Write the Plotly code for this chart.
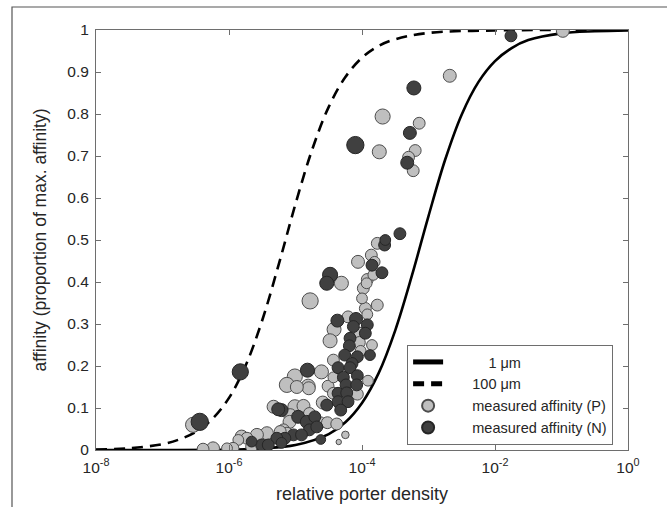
import numpy as np
import plotly.graph_objects as go

# ---- model curves (log10 density, affinity) ----
curve_1um_logx = [-8, -7, -6, -5.5, -5, -4.5, -4.25, -4, -3.75, -3.5, -3.25, -3, -2.75, -2.5, -2.25, -2, -1.75, -1.5, -1, -0.5, 0]
curve_1um_y = [0.000, 0.000, 0.001, 0.004, 0.012, 0.038, 0.066, 0.112, 0.183, 0.285, 0.415, 0.557, 0.691, 0.799, 0.876, 0.926, 0.957, 0.976, 0.992, 0.997, 0.999]

curve_100um_logx = [-8, -7.5, -7, -6.75, -6.5, -6.25, -6, -5.75, -5.5, -5.25, -5, -4.75, -4.5, -4.25, -4, -3.75, -3.5, -3, -2, -1, 0]
curve_100um_y = [0.001, 0.004, 0.014, 0.025, 0.043, 0.074, 0.124, 0.201, 0.309, 0.443, 0.586, 0.715, 0.817, 0.888, 0.934, 0.962, 0.978, 0.993, 0.999, 1.0, 1.0]

# ---- measured affinity (P) ----
p_logx = [-0.98, -2.68, -3.69, -3.14, -3.20, -3.74, -3.30, -3.23, -3.77, -3.86, -3.81, -4.06, -3.92, -3.83, -4.31, -3.98, -3.93,
          -4.78, -3.77, -3.95, -3.92, -4.21, -4.00, -4.42, -4.03, -4.48, -4.04, -3.85, -4.02, -4.43, -4.61, -5.01, -5.13, -4.81,
          -4.51, -4.43, -3.91, -4.80, -4.07, -4.43, -4.59, -5.01, -4.88, -5.33, -5.08, -4.79, -5.09, -4.63, -4.52, -4.38, -5.18,
          -5.13, -5.43, -5.58, -5.81, -5.73, -5.86, -5.66, -5.94, -6.03, -6.24, -6.39, -6.54, -4.25, -4.35, -4.98, -5.23, -4.33]
p_y = [0.998, 0.891, 0.794, 0.778, 0.713, 0.710, 0.697, 0.665, 0.492, 0.464, 0.448, 0.448, 0.406, 0.417, 0.397, 0.385, 0.397,
       0.355, 0.345, 0.337, 0.323, 0.317, 0.361, 0.287, 0.278, 0.260, 0.256, 0.250, 0.236, 0.214, 0.186, 0.175, 0.155, 0.152,
       0.152, 0.173, 0.165, 0.147, 0.133, 0.135, 0.113, 0.103, 0.105, 0.103, 0.083, 0.087, 0.067, 0.065, 0.065, 0.062, 0.048,
       0.040, 0.040, 0.036, 0.032, 0.028, 0.024, 0.008, 0.004, 0.004, 0.004, 0.002, 0.060, 0.036, 0.019, 0.150, 0.044, 0.107]
p_size = [12, 12, 14, 11, 11, 13, 11, 11, 11, 11, 10, 12, 11, 10, 13, 11, 10,
          15, 11, 11, 10, 11, 10, 13, 11, 13, 11, 10, 10, 11, 13, 14, 14, 13,
          11, 10, 10, 12, 11, 11, 12, 13, 12, 12, 12, 11, 12, 11, 11, 11, 11,
          11, 12, 12, 12, 11, 10, 11, 11, 10, 12, 11, 14, 7, 5, 12, 11, 10]

# ---- measured affinity (N) ----
n_logx = [-1.76, -3.22, -3.28, -4.10, -3.32, -3.43, -3.66, -3.65, -3.85, -3.70, -4.48, -4.53, -4.37, -4.09, -4.13, -3.92, -3.95,
          -4.18, -4.19, -4.26, -4.07, -3.88, -4.15, -4.82, -4.36, -4.18, -4.28, -4.07, -4.24, -4.08, -4.36, -4.23, -4.36, -4.21,
          -4.32, -4.53, -5.21, -4.96, -4.83, -4.71, -4.79, -5.03, -5.16, -4.91, -4.62, -5.26, -5.28, -5.51, -5.41, -5.66, -5.21,
          -5.83, -6.44, -4.68]
n_y = [0.986, 0.862, 0.755, 0.726, 0.684, 0.515, 0.488, 0.500, 0.440, 0.422, 0.417, 0.397, 0.308, 0.312, 0.294, 0.298, 0.278,
       0.266, 0.248, 0.226, 0.222, 0.226, 0.206, 0.190, 0.196, 0.196, 0.173, 0.177, 0.155, 0.155, 0.135, 0.136, 0.115, 0.115,
       0.095, 0.107, 0.095, 0.079, 0.067, 0.079, 0.048, 0.036, 0.028, 0.036, 0.025, 0.097, 0.028, 0.012, 0.012, 0.020, 0.017,
       0.186, 0.067, 0.055]
n_size = [11, 13, 12, 16, 12, 11, 11, 10, 11, 11, 14, 13, 12, 12, 11, 11, 11,
          11, 11, 11, 11, 10, 11, 13, 11, 11, 11, 11, 11, 11, 11, 11, 11, 11,
          11, 11, 12, 12, 12, 11, 11, 11, 11, 11, 9, 12, 11, 11, 11, 10, 10,
          15, 16, 11]

x_tickvals = [1e-8, 1e-6, 1e-4, 1e-2, 1]
x_ticktext = ["10<sup>-8</sup>", "10<sup>-6</sup>", "10<sup>-4</sup>", "10<sup>-2</sup>", "10<sup>0</sup>"]
y_tickvals = [0, 0.1, 0.2, 0.3, 0.4, 0.5, 0.6, 0.7, 0.8, 0.9, 1]
y_ticktext = ["0", "0.1", "0.2", "0.3", "0.4", "0.5", "0.6", "0.7", "0.8", "0.9", "1"]

legend_names = ["1 μm", "100 μm", "measured affinity (P)", "measured affinity (N)"]
PAD = "\u00a0" * 6  # shifts legend text right, as in the reference legend


def pow10(v):
    return (10.0 ** np.array(v, dtype=float)).tolist()


SIZE_K = 1.08

fig = go.Figure()
fig.add_trace(go.Scatter(x=pow10(curve_1um_logx), y=curve_1um_y, mode="lines",
                         name=PAD + "\u00a0" * 4 + legend_names[0],
                         line=dict(color="black", width=2.6, shape="spline")))
fig.add_trace(go.Scatter(x=pow10(curve_100um_logx), y=curve_100um_y, mode="lines", name=PAD + legend_names[1],
                         line=dict(color="black", width=2.6, dash="11px,7px", shape="spline")))
fig.add_trace(go.Scatter(x=pow10(p_logx), y=p_y, mode="markers", name=PAD + legend_names[2],
                         marker=dict(size=[s * SIZE_K for s in p_size], color="#bfbfbf", opacity=1,
                                     line=dict(color="#4d4d4d", width=1))))
fig.add_trace(go.Scatter(x=pow10(n_logx), y=n_y, mode="markers", name=PAD + legend_names[3],
                         marker=dict(size=[s * SIZE_K for s in n_size], color="#404040", opacity=1,
                                     line=dict(color="#262626", width=1))))

axis_col = "#6e6e6e"
font_fam = "Liberation Sans, Arial, sans-serif"

fig.update_layout(
    width=667, height=507,
    margin=dict(l=96, r=39, t=30, b=57),
    paper_bgcolor="white", plot_bgcolor="white",
    font=dict(family=font_fam, size=15.5, color="#262626"),
    showlegend=True,
    legend=dict(x=0.972, y=(450 - 395) / 420, xanchor="right", yanchor="middle",
                bgcolor="white", bordercolor="#6e6e6e", borderwidth=1,
                font=dict(size=14.5, color="#262626"), itemsizing="constant",
                tracegroupgap=0),
    xaxis=dict(type="log", range=[-8, 0], tickvals=x_tickvals, ticktext=x_ticktext,
               showline=True, linecolor=axis_col, linewidth=1, mirror="ticks",
               ticks="inside", ticklen=5, tickcolor=axis_col, showgrid=False, zeroline=False,
               automargin=False, ticklabelstandoff=3,
               title=dict(text="relative porter density", standoff=12, font=dict(size=18))),
    yaxis=dict(range=[0, 1], tickvals=y_tickvals, ticktext=y_ticktext,
               showline=True, linecolor=axis_col, linewidth=1, mirror="ticks",
               ticks="inside", ticklen=5, tickcolor=axis_col, showgrid=False, zeroline=False,
               automargin=False, ticklabelstandoff=3,
               title=dict(text="affinity (proportion of max. affinity)", standoff=16, font=dict(size=17.5))),
    shapes=[dict(type="rect", xref="paper", yref="paper",
                 x0=(12 - 96) / 532, y0=(450 - 7) / 420, x1=1.3, y1=-0.4,
                 line=dict(color="#555555", width=1.2), fillcolor="rgba(0,0,0,0)", layer="below")],
)

fig.write_html("out.html", config={"displayModeBar": False},
               post_script="document.body.style.margin='0';document.body.style.overflow='hidden';")
